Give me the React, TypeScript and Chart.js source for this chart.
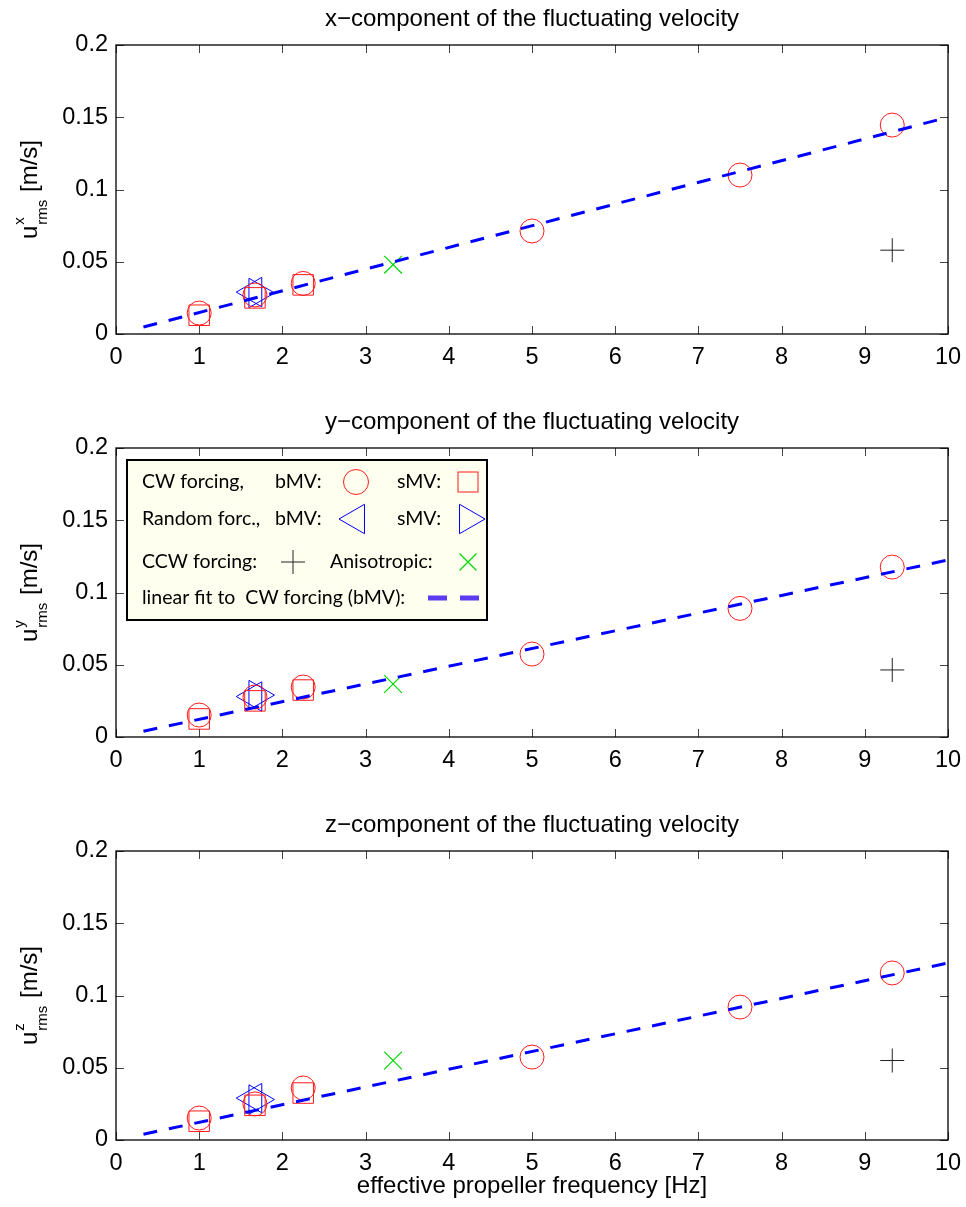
import React, { useEffect, useRef } from 'react';
import { Chart, registerables } from 'chart.js';

Chart.register(...registerables);

// ---------- data ----------
const xTickValues = [0, 1, 2, 3, 4, 5, 6, 7, 8, 9, 10];
const yTickValues = [0, 0.05, 0.1, 0.15, 0.2];
const yTickLabels = ['0', '0.05', '0.1', '0.15', '0.2'];

const components = ['x', 'y', 'z'];
const panelTitles = [
  'x\u2212component of the fluctuating velocity',
  'y\u2212component of the fluctuating velocity',
  'z\u2212component of the fluctuating velocity',
];
const xAxisTitle = 'effective propeller frequency [Hz]';

// CW forcing, bMV (circles)
const cwBmvFreq = [1, 1.67, 2.25, 5, 7.5, 9.33];
const cwBmvUx = [0.0145, 0.027, 0.035, 0.0713, 0.11, 0.1446];
const cwBmvUy = [0.0152, 0.0277, 0.0346, 0.0574, 0.089, 0.1176];
const cwBmvUz = [0.0152, 0.025, 0.036, 0.0574, 0.092, 0.1156];

// CW forcing, sMV (squares)
const cwSmvFreq = [1, 1.67, 2.25];
const cwSmvUx = [0.013, 0.025, 0.034];
const cwSmvUy = [0.0125, 0.025, 0.0325];
const cwSmvUz = [0.013, 0.024, 0.0325];

// Random forcing, bMV (left triangles)
const rndBmvFreq = [1.65];
const rndBmvUx = [0.029];
const rndBmvUy = [0.028];
const rndBmvUz = [0.029];

// Random forcing, sMV (right triangles)
const rndSmvFreq = [1.7];
const rndSmvUx = [0.0284];
const rndSmvUy = [0.029];
const rndSmvUz = [0.028];

// CCW forcing (plus)
const ccwFreq = [9.33];
const ccwUx = [0.058];
const ccwUy = [0.0464];
const ccwUz = [0.055];

// Anisotropic (x)
const anisoFreq = [3.33];
const anisoUx = [0.048];
const anisoUy = [0.0367];
const anisoUz = [0.055];

// linear fit to CW forcing (bMV)
const fitFreq = [0.33, 10];
const fitUx = [0.0048, 0.15];
const fitUy = [0.004, 0.1225];
const fitUz = [0.004, 0.1225];

const seriesByPanel = [
  { bmv: cwBmvUx, smv: cwSmvUx, rb: rndBmvUx, rs: rndSmvUx, ccw: ccwUx, an: anisoUx, fit: fitUx },
  { bmv: cwBmvUy, smv: cwSmvUy, rb: rndBmvUy, rs: rndSmvUy, ccw: ccwUy, an: anisoUy, fit: fitUy },
  { bmv: cwBmvUz, smv: cwSmvUz, rb: rndBmvUz, rs: rndSmvUz, ccw: ccwUz, an: anisoUz, fit: fitUz },
];

// ---------- styling ----------
const FONT = '"Liberation Sans", Arial, sans-serif';
const LEGEND_FONT = 'Lato, "Open Sans", sans-serif';
const RED = '#ff1a1a';
const BLUE = '#0000ff';
const GREEN = '#00d800';
const BLACK = '#222222';

const W = 966;
const PANEL_H = 403;
const PLOT_RIGHT = 950;
const PLOT_LEFT = 116;
const PLOT_TOP = 45;
const PLOT_BOTTOM = 334;
const TEXT_SIZE = 24;
const TICK_SIZE = 23.5;

const pts = (xs: number[], ys: number[]) => xs.map((x, i) => ({ x, y: ys[i] }));

function drawYLabel(ctx: CanvasRenderingContext2D, comp: string, cy: number) {
  const big = `${TEXT_SIZE}px ${FONT}`;
  const small = `15px ${FONT}`;
  ctx.save();
  ctx.translate(37, cy);
  ctx.rotate(-Math.PI / 2);
  ctx.fillStyle = '#000';
  ctx.textAlign = 'left';
  ctx.textBaseline = 'alphabetic';
  ctx.font = big;
  const wu = ctx.measureText('u').width;
  const wrest = ctx.measureText(' [m/s]').width;
  ctx.font = small;
  const wsup = ctx.measureText(comp).width;
  const wsub = ctx.measureText('rms').width;
  const wmid = Math.max(wsup, wsub) + 2;
  const total = wu + wmid + wrest;
  let x = -total / 2;
  ctx.font = big;
  ctx.fillText('u', x, 0);
  x += wu;
  ctx.font = small;
  ctx.fillText(comp, x + 1, -13);
  ctx.fillText('rms', x + 1, 10);
  x += wmid;
  ctx.font = big;
  ctx.fillText(' [m/s]', x, 0);
  ctx.restore();
}

function drawLegend(ctx: CanvasRenderingContext2D) {
  const bx = 127, by = 57, bw = 360, bh = 160;
  ctx.save();
  ctx.fillStyle = '#ffffef';
  ctx.fillRect(bx, by, bw, bh);
  ctx.strokeStyle = '#000';
  ctx.lineWidth = 2;
  ctx.strokeRect(bx, by, bw, bh);
  ctx.font = `19.5px ${LEGEND_FONT}`;
  ctx.fillStyle = '#000';
  ctx.textAlign = 'left';
  ctx.textBaseline = 'middle';
  const r1 = 79, r2 = 116, r3 = 159, r4 = 195;
  ctx.fillText('CW forcing,', 142, r1);
  ctx.fillText('bMV:', 275, r1);
  ctx.fillText('sMV:', 397, r1);
  ctx.fillText('Random forc.,', 142, r2);
  ctx.fillText('bMV:', 275, r2);
  ctx.fillText('sMV:', 397, r2);
  ctx.fillText('CCW forcing:', 142, r3);
  ctx.fillText('Anisotropic:', 330, r3);
  ctx.fillText('linear fit to  CW forcing (bMV):', 142, r4);

  ctx.lineWidth = 1;
  ctx.strokeStyle = RED;
  ctx.beginPath();
  ctx.arc(356, r1, 12.5, 0, Math.PI * 2);
  ctx.stroke();
  ctx.strokeRect(458, r1 - 10, 20, 20);
  const tr = 17, h = tr * Math.sqrt(3) / 2;
  ctx.strokeStyle = BLUE;
  ctx.beginPath();
  ctx.moveTo(356 - tr, r2);
  ctx.lineTo(356 + tr / 2, r2 - h);
  ctx.lineTo(356 + tr / 2, r2 + h);
  ctx.closePath();
  ctx.stroke();
  ctx.beginPath();
  ctx.moveTo(468 + tr, r2);
  ctx.lineTo(468 - tr / 2, r2 - h);
  ctx.lineTo(468 - tr / 2, r2 + h);
  ctx.closePath();
  ctx.stroke();
  ctx.strokeStyle = BLACK;
  ctx.beginPath();
  ctx.moveTo(293 - 12, r3); ctx.lineTo(293 + 12, r3);
  ctx.moveTo(293, r3 - 12); ctx.lineTo(293, r3 + 12);
  ctx.stroke();
  ctx.strokeStyle = GREEN;
  ctx.lineWidth = 1.2;
  ctx.beginPath();
  ctx.moveTo(468 - 8.5, r3 - 8.5); ctx.lineTo(468 + 8.5, r3 + 8.5);
  ctx.moveTo(468 + 8.5, r3 - 8.5); ctx.lineTo(468 - 8.5, r3 + 8.5);
  ctx.stroke();
  ctx.fillStyle = '#5a3cf2';
  ctx.fillRect(428, r4 - 2.5, 19, 5);
  ctx.fillRect(460, r4 - 2.5, 19, 5);
  ctx.restore();
}

function makeFramePlugin(idx: number) {
  return {
    id: 'frame' + idx,
    afterDraw(chart: any) {
      const ctx: CanvasRenderingContext2D = chart.ctx;
      const { left, right, top, bottom } = chart.chartArea;
      const xs = chart.scales.x;
      const ys = chart.scales.y;
      ctx.save();
      ctx.strokeStyle = '#444';
      ctx.lineWidth = 1;
      ctx.beginPath();
      const tl = 8;
      xTickValues.forEach((v) => {
        const px = Math.round(xs.getPixelForValue(v)) + 0.5;
        ctx.moveTo(px, bottom); ctx.lineTo(px, bottom - tl);
        ctx.moveTo(px, top); ctx.lineTo(px, top + tl);
      });
      yTickValues.forEach((v) => {
        const py = Math.round(ys.getPixelForValue(v)) + 0.5;
        ctx.moveTo(left, py); ctx.lineTo(left + tl, py);
        ctx.moveTo(right, py); ctx.lineTo(right - tl, py);
      });
      ctx.stroke();
      ctx.strokeStyle = '#000';
      ctx.lineWidth = 1.3;
      ctx.strokeRect(left, top, right - left, bottom - top);
      ctx.fillStyle = '#000';
      ctx.font = `${TEXT_SIZE}px ${FONT}`;
      ctx.textAlign = 'center';
      ctx.textBaseline = 'alphabetic';
      ctx.fillText(panelTitles[idx], (left + right) / 2, 26);
      if (idx === 2) {
        ctx.textBaseline = 'middle';
        ctx.fillText(xAxisTitle, (left + right) / 2, 380);
      }
      drawYLabel(ctx, components[idx], (top + bottom) / 2);
      if (idx === 1) drawLegend(ctx);
      ctx.restore();
    },
  };
}

function markerSet(data: any[], style: string, radius: number, color: string, rotation = 0, lw = 1) {
  return {
    data,
    pointStyle: style,
    pointRadius: radius,
    pointRotation: rotation,
    pointBorderColor: color,
    borderColor: color,
    pointBackgroundColor: 'rgba(0,0,0,0)',
    backgroundColor: 'rgba(0,0,0,0)',
    pointBorderWidth: lw,
    borderWidth: lw,
  };
}

function Panel({ idx }: { idx: number }) {
  const ref = useRef<HTMLCanvasElement | null>(null);
  const height = idx === 2 ? 1207 - 2 * PANEL_H : PANEL_H;
  useEffect(() => {
    if (!ref.current) return;
    const s = seriesByPanel[idx];
    const chart = new Chart(ref.current, {
      type: 'scatter',
      data: {
        datasets: [
          {
            type: 'line',
            data: pts(fitFreq, s.fit),
            borderColor: BLUE,
            borderWidth: 3,
            borderDash: [14, 12],
            borderCapStyle: 'butt',
            pointRadius: 0,
            fill: false,
          } as any,
          markerSet(pts(cwBmvFreq, s.bmv), 'circle', 12, RED),
          markerSet(pts(cwSmvFreq, s.smv), 'rect', 14.5, RED),
          markerSet(pts(rndBmvFreq, s.rb), 'triangle', 17, BLUE, -90),
          markerSet(pts(rndSmvFreq, s.rs), 'triangle', 17, BLUE, 90),
          markerSet(pts(ccwFreq, s.ccw), 'cross', 12, BLACK),
          markerSet(pts(anisoFreq, s.an), 'crossRot', 12.5, GREEN, 0, 1.2),
        ],
      },
      options: {
        responsive: false,
        animation: false,
        events: [],
        layout: {
          padding: { left: 0, right: W - PLOT_RIGHT, top: PLOT_TOP, bottom: height - PLOT_BOTTOM - 40 },
        },
        plugins: {
          legend: { display: false },
          tooltip: { enabled: false },
          title: { display: false },
        },
        scales: {
          x: {
            type: 'linear',
            min: 0,
            max: 10,
            afterFit: (sc: any) => {
              sc.height = 40;
              sc.paddingLeft = 0;
              sc.paddingRight = 0;
            },
            afterBuildTicks: (sc: any) => { sc.ticks = xTickValues.map((v) => ({ value: v })); },
            ticks: {
              color: '#000',
              font: { family: FONT, size: TICK_SIZE },
              padding: 9,
              maxRotation: 0,
              autoSkip: false,
              callback: (v: any) => String(v),
            },
            grid: { display: false, drawTicks: false },
            border: { display: false },
          },
          y: {
            type: 'linear',
            min: 0,
            max: 0.2,
            afterFit: (sc: any) => {
              sc.width = PLOT_LEFT;
              sc.paddingTop = 0;
              sc.paddingBottom = 0;
            },
            afterBuildTicks: (sc: any) => { sc.ticks = yTickValues.map((v) => ({ value: v })); },
            ticks: {
              color: '#000',
              font: { family: FONT, size: TICK_SIZE },
              padding: 8,
              autoSkip: false,
              callback: (v: any) => {
                const i = yTickValues.findIndex((t) => Math.abs(t - v) < 1e-9);
                return i >= 0 ? yTickLabels[i] : '';
              },
            },
            grid: { display: false, drawTicks: false },
            border: { display: false },
          },
        },
      },
      plugins: [makeFramePlugin(idx)],
    } as any);
    return () => chart.destroy();
  }, [idx]);
  return (
    <canvas
      ref={ref}
      width={W}
      height={height}
      style={{ position: 'absolute', left: 0, top: idx * PANEL_H, width: W, height, display: 'block' }}
    />
  );
}

export default function App() {
  return (
    <div style={{ position: 'absolute', left: 0, top: 0, width: W, height: 1207, background: '#fff', overflow: 'hidden' }}>
      <Panel idx={0} />
      <Panel idx={1} />
      <Panel idx={2} />
    </div>
  );
}
